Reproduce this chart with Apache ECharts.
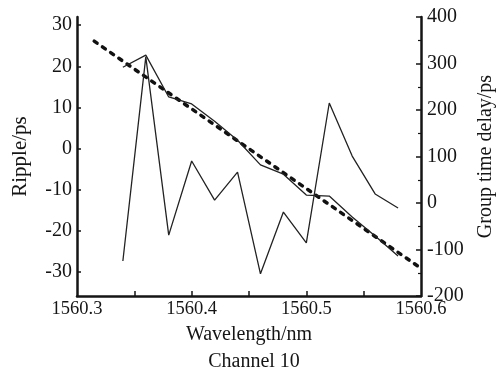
<!DOCTYPE html>
<html>
<head>
<meta charset="utf-8">
<script src="https://cdn.jsdelivr.net/npm/echarts@6/dist/echarts.min.js"></script>
<style>
  html, body { margin: 0; padding: 0; background: #fff; }
  #chart { width: 504px; height: 375px; }
</style>
</head>
<body>
<div id="chart"></div>
<script>
// wavelength samples (nm)
const wavelengths = [1560.34, 1560.36, 1560.38, 1560.40, 1560.42, 1560.44, 1560.46,
    1560.48, 1560.50, 1560.52, 1560.54, 1560.56, 1560.58];
// ripple (ps), left axis
const ripple = [-27.3, 22.3, -21, -3, -12.5, -5.7, -30.4, -15.4, -22.9, 11.1, -1.8, -11, -14.4];
// measured group time delay (ps), right axis
const groupDelay = [292, 318, 228, 213, 176, 135, 82, 62, 17, 15, -30, -71, -114];
// linear fit of group delay, dotted
const fitWavelengths = [1560.315, 1560.598];
const fitDelay = [348, -137];

const leftTicks = [-30, -20, -10, 0, 10, 20, 30];
const xLabels = [1560.3, 1560.4, 1560.5, 1560.6];
const xTicks = [1560.35, 1560.4, 1560.45, 1560.5, 1560.55];

const chart = echarts.init(document.getElementById("chart"));
const font = "Liberation Serif";
const ink = "#151515";

const pair = (xs, ys) => xs.map((x, i) => [x, ys[i]]);

chart.setOption({
    animation: false,
    textStyle: {fontFamily: font, color: ink},
    grid: {left: 77, right: 72, top: 17, bottom: 79},
    graphic: [{
        type: "text",
        x: 254,
        y: 362,
        style: {
            text: "Channel 10",
            font: "20px " + font,
            fill: ink,
            align: "center",
            verticalAlign: "middle"
        }
    }],
    xAxis: {
        type: "value",
        min: 1560.3,
        max: 1560.6,
        name: "Wavelength/nm",
        nameLocation: "middle",
        nameGap: 29,
        nameTextStyle: {fontSize: 20, color: ink, fontFamily: font},
        axisLine: {onZero: false, lineStyle: {color: ink, width: 2.5}},
        axisTick: {
            inside: true,
            length: 5,
            customValues: xTicks,
            lineStyle: {color: ink, width: 1.5}
        },
        axisLabel: {
            customValues: xLabels,
            formatter: v => v.toFixed(1),
            fontSize: 18.5,
            color: ink,
            margin: 4
        },
        splitLine: {show: false}
    },
    yAxis: [
        {
            type: "value",
            position: "left",
            min: -35.8,
            max: 32,
            name: "Ripple/ps",
            nameLocation: "middle",
            nameGap: 46,
            nameTextStyle: {fontSize: 21, color: ink, fontFamily: font},
            axisLine: {show: true, onZero: false, lineStyle: {color: ink, width: 2.5}},
            axisTick: {
                show: true,
                inside: true,
                length: 4,
                customValues: leftTicks,
                lineStyle: {color: ink, width: 1.5}
            },
            axisLabel: {
                customValues: leftTicks,
                fontSize: 20,
                color: ink,
                margin: 5
            },
            splitLine: {show: false}
        },
        {
            type: "value",
            position: "right",
            min: -200,
            max: 400,
            interval: 100,
            name: "Group time delay/ps",
            nameLocation: "middle",
            nameGap: 55,
            nameRotate: 90,
            nameTextStyle: {fontSize: 20, color: ink, fontFamily: font},
            axisLine: {show: true, onZero: false, lineStyle: {color: ink, width: 2.5}},
            axisTick: {
                show: true,
                inside: true,
                length: 5,
                lineStyle: {color: ink, width: 1.5}
            },
            minorTick: {
                show: true,
                splitNumber: 2,
                length: 3,
                lineStyle: {color: ink, width: 1.2}
            },
            axisLabel: {
                fontSize: 20,
                color: ink,
                margin: 6
            },
            splitLine: {show: false}
        }
    ],
    series: [
        {
            name: "fit",
            type: "line",
            yAxisIndex: 1,
            data: pair(fitWavelengths, fitDelay),
            showSymbol: false,
            lineStyle: {color: "#111", width: 3.5, type: [3.5, 6.5], cap: "round"},
            z: 3
        },
        {
            name: "group delay",
            type: "line",
            yAxisIndex: 1,
            data: pair(wavelengths, groupDelay),
            showSymbol: false,
            lineStyle: {color: "#222", width: 1.3}
        },
        {
            name: "ripple",
            type: "line",
            yAxisIndex: 0,
            data: pair(wavelengths, ripple),
            showSymbol: false,
            lineStyle: {color: "#222", width: 1.3}
        }
    ]
});
</script>
</body>
</html>
